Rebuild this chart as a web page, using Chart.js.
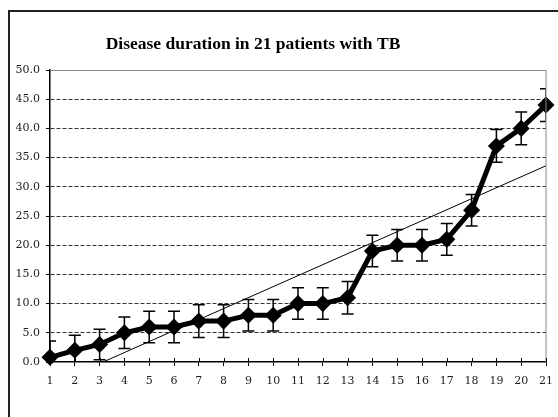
<!DOCTYPE html>
<html>
<head>
<meta charset="utf-8">
<script src="https://cdn.jsdelivr.net/npm/chart.js@4/dist/chart.umd.min.js"></script>
<style>
  html, body { margin: 0; padding: 0; background: #fff; overflow: hidden; }
  #marco {
    position: absolute; left: 8px; top: 10px; width: 600px; height: 500px;
    border: 2px solid #222; box-sizing: border-box;
  }
  #caja { position: absolute; left: 0; top: 0; width: 558px; height: 417px; }
</style>
</head>
<body>
<div id="marco"></div>
<div id="caja"><canvas id="grafica"></canvas></div>
<script>
// datos
const pacientes = [1, 2, 3, 4, 5, 6, 7, 8, 9, 10, 11, 12, 13, 14, 15, 16, 17, 18, 19, 20, 21];
const duracion = [0.8, 2.0, 3.0, 5.0, 6.0, 6.0, 7.0, 7.0, 8.0, 8.0, 10.0, 10.0, 11.0, 19.0, 20.0, 20.0, 21.0, 26.0, 37.0, 40.0, 44.0];
const errores = [2.8, 2.6, 2.6, 2.7, 2.7, 2.7, 2.8, 2.8, 2.7, 2.7, 2.7, 2.7, 2.8, 2.7, 2.7, 2.7, 2.7, 2.7, 2.8, 2.8, 2.8];
// linea de tendencia (extremos)
const tendenciaX = [3.14, 21];
const tendenciaY = [0, 33.6];
const titulo = 'Disease duration in 21 patients with TB';

const fuenteEjes = '"DejaVu Serif", serif';

const barrasError = {
    id: 'barrasError',
    beforeDatasetsDraw(chart) {
        const { ctx, chartArea, scales: { x, y } } = chart;
        ctx.save();
        ctx.beginPath();
        ctx.rect(chartArea.left, chartArea.top, chartArea.width, chartArea.height);
        ctx.clip();
        ctx.strokeStyle = '#000';
        ctx.lineWidth = 1.5;
        pacientes.forEach((p, i) => {
            const px = x.getPixelForValue(p);
            const arriba = y.getPixelForValue(duracion[i] + errores[i]);
            const abajo = y.getPixelForValue(duracion[i] - errores[i]);
            ctx.beginPath();
            ctx.moveTo(px, arriba); ctx.lineTo(px, abajo);
            ctx.moveTo(px - 6, arriba); ctx.lineTo(px + 6, arriba);
            ctx.moveTo(px - 6, abajo); ctx.lineTo(px + 6, abajo);
            ctx.stroke();
        });
        ctx.restore();
    },
    afterDraw(chart) {
        const { ctx, chartArea, scales: { x } } = chart;
        ctx.save();
        // borde derecho del area
        ctx.strokeStyle = '#888';
        ctx.lineWidth = 1;
        ctx.beginPath();
        ctx.moveTo(chartArea.right, chartArea.top);
        ctx.lineTo(chartArea.right, chartArea.bottom);
        ctx.stroke();
        // marcas que cruzan el eje x
        ctx.strokeStyle = '#000';
        ctx.beginPath();
        pacientes.forEach(p => {
            const px = Math.round(x.getPixelForValue(p)) + 0.5;
            ctx.moveTo(px, chartArea.bottom);
            ctx.lineTo(px, chartArea.bottom - 4);
        });
        ctx.stroke();
        // titulo
        ctx.fillStyle = '#000';
        ctx.font = 'bold 17.5px "Liberation Serif", serif';
        ctx.textAlign = 'center';
        ctx.textBaseline = 'middle';
        ctx.fillText(titulo, 253, 44);
        ctx.restore();
    }
};

function dibujarGrafica() {
    const ctx = document.getElementById('grafica').getContext('2d');

    new Chart(ctx, {
        type: 'line',
        data: {
            datasets: [
                {
                    label: 'Duración',
                    data: pacientes.map((p, i) => ({ x: p, y: duracion[i] })),
                    borderColor: '#000',
                    backgroundColor: '#000',
                    borderWidth: 5,
                    pointStyle: 'rectRot',
                    pointRadius: 5,
                    pointBackgroundColor: '#000',
                    pointBorderColor: '#000',
                    tension: 0,
                    clip: false
                },
                {
                    label: 'Tendencia',
                    data: tendenciaX.map((t, i) => ({ x: t, y: tendenciaY[i] })),
                    borderColor: '#000',
                    borderWidth: 1,
                    pointRadius: 0,
                    tension: 0
                }
            ]
        },
        options: {
            responsive: true,
            maintainAspectRatio: false,
            animation: false,
            layout: { padding: { top: 70, right: 12, left: 0, bottom: 0 } },
            plugins: {
                legend: { display: false },
                title: { display: false },
                tooltip: { enabled: false }
            },
            scales: {
                x: {
                    type: 'linear',
                    min: 1,
                    max: 21,
                    afterFit: s => { s.height = 55; s.paddingLeft = 8; s.paddingRight = 8; },
                    ticks: {
                        stepSize: 1,
                        color: '#222',
                        padding: 9,
                        font: { family: fuenteEjes, size: 11 }
                    },
                    grid: {
                        drawOnChartArea: false,
                        drawTicks: true,
                        tickLength: 4,
                        tickColor: '#000'
                    },
                    border: { color: '#000', width: 1.5 }
                },
                y: {
                    min: 0,
                    max: 50,
                    afterFit: s => { s.width = 50; },
                    ticks: {
                        stepSize: 5,
                        color: '#222',
                        padding: 6,
                        font: { family: fuenteEjes, size: 11 },
                        callback: v => Number(v).toFixed(1)
                    },
                    grid: {
                        color: c => c.tick && c.tick.value === 0 ? 'rgba(0,0,0,0)' : (c.tick && c.tick.value === 50 ? '#888' : '#333'),
                        lineWidth: 1,
                        tickLength: 4,
                        tickColor: '#000'
                    },
                    border: {
                        color: '#000',
                        width: 1.5,
                        dash: c => c.tick && c.tick.value === 50 ? [] : [4, 2]
                    }
                }
            }
        },
        plugins: [barrasError]
    });
}

dibujarGrafica();
</script>
</body>
</html>
